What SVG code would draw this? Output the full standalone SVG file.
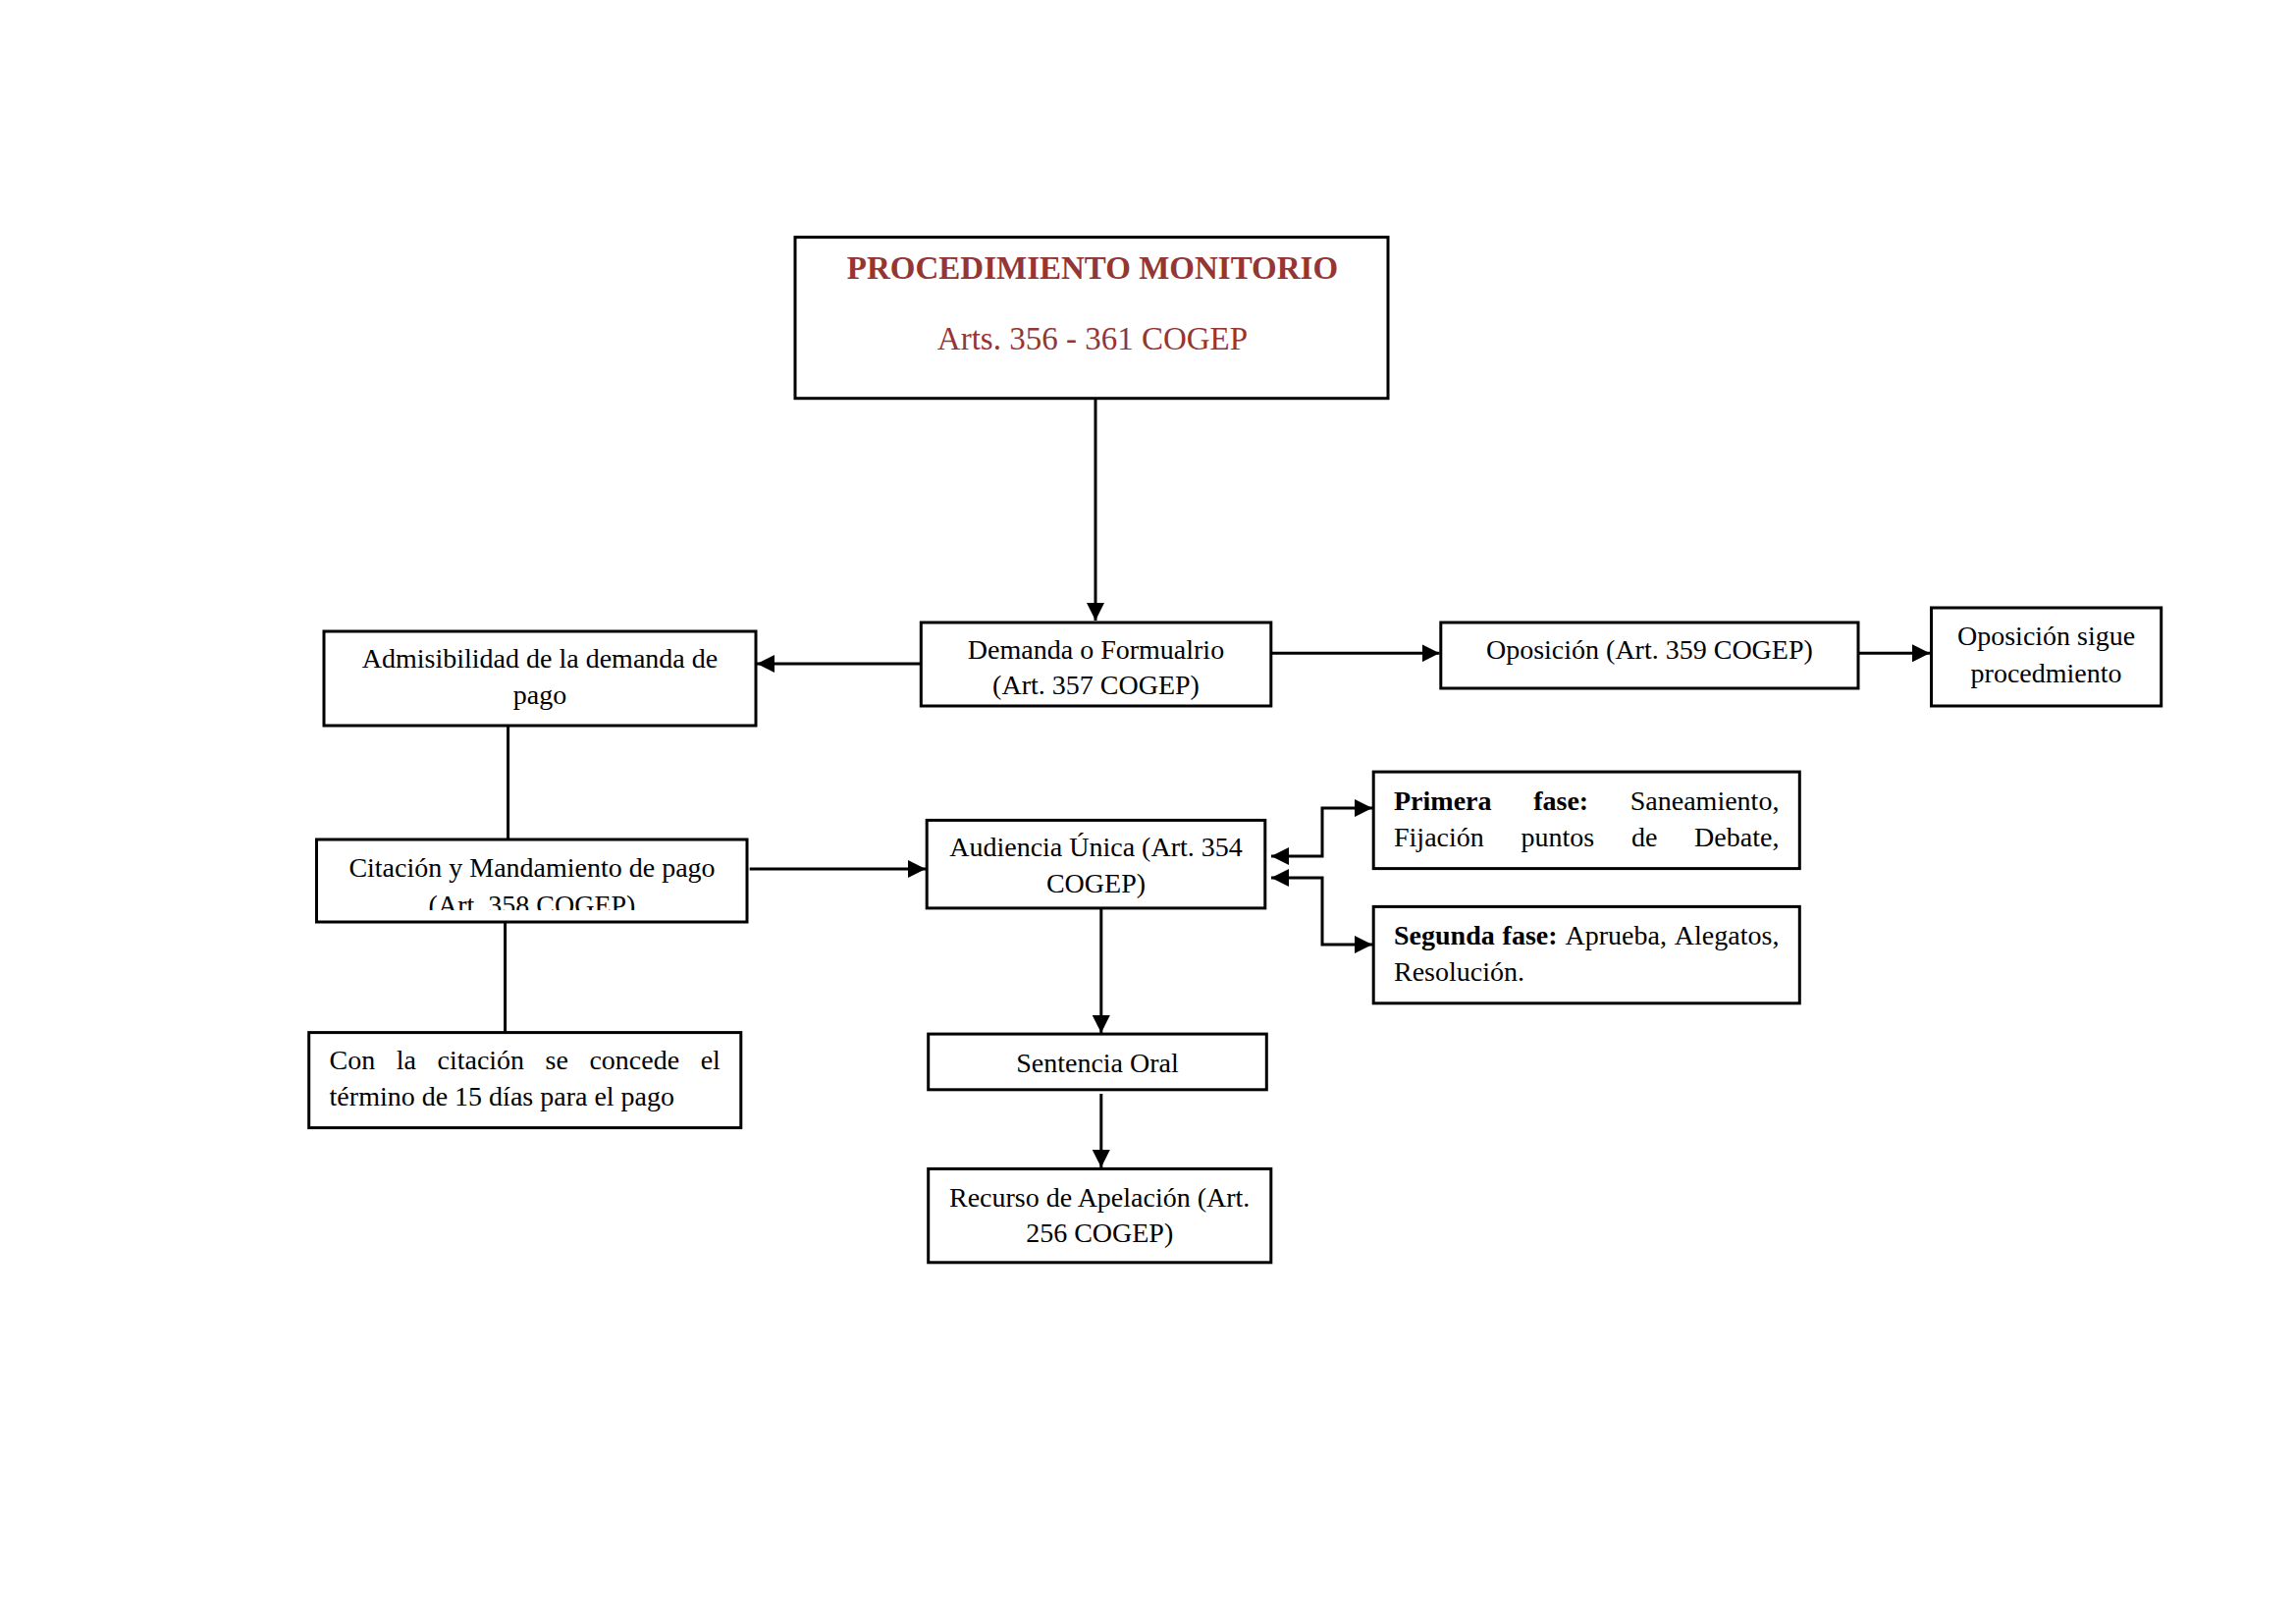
<svg xmlns="http://www.w3.org/2000/svg" width="2339" height="1654" viewBox="0 0 2339 1654">
<style>
.box{fill:#fff;stroke:#000;stroke-width:3}
.t{font-family:"Liberation Serif","Times New Roman",serif;font-size:28px;fill:#000}
.c{text-anchor:middle}
.e{text-anchor:end}
.b{font-weight:bold}
.ttl{font-family:"Liberation Serif","Times New Roman",serif;font-size:33px;fill:#943634;text-anchor:middle}
.conn{stroke:#000;stroke-width:3;fill:none}
</style>
<defs>
<marker id="ah" markerUnits="userSpaceOnUse" markerWidth="19" markerHeight="18" refX="18" refY="9" orient="auto-start-reverse">
<path d="M0,0 L18,9 L0,18 z" fill="#000"/>
</marker>
<clipPath id="clipCit"><rect x="324" y="856.5" width="436" height="70.5"/></clipPath>
</defs>
<rect x="0" y="0" width="2339" height="1654" fill="#fff"/>

<g id="connectors">
<path class="conn" d="M1116,405.7 V632" marker-end="url(#ah)"/>
<path class="conn" d="M938.3,676 H771" marker-end="url(#ah)"/>
<path class="conn" d="M1294.8,665.3 H1466.5" marker-end="url(#ah)"/>
<path class="conn" d="M1893,665.3 H1966" marker-end="url(#ah)"/>
<path class="conn" d="M517.6,739 V855"/>
<path class="conn" d="M514.6,932 V1051.6"/>
<path class="conn" d="M763.7,885 H943" marker-end="url(#ah)"/>
<path class="conn" d="M1121.8,922 V1052" marker-end="url(#ah)"/>
<path class="conn" d="M1121.8,1114 V1189" marker-end="url(#ah)"/>
<path class="conn" d="M1295,872 H1347 V823 H1398" marker-start="url(#ah)" marker-end="url(#ah)"/>
<path class="conn" d="M1295,894 H1347 V962 H1398" marker-start="url(#ah)" marker-end="url(#ah)"/>
</g>

<g id="title">
<rect class="box" x="810" y="241.6" width="604" height="164.1"/>
<text class="ttl" x="1113" y="284" font-weight="bold">PROCEDIMIENTO MONITORIO</text>
<text class="ttl" x="1113" y="356">Arts. 356 - 361 COGEP</text>
</g>

<g id="demanda">
<rect class="box" x="938.3" y="634" width="356.5" height="85"/>
<text class="t c" x="1116.5" y="670.8">Demanda o Formualrio</text>
<text class="t c" x="1116.5" y="706.6">(Art. 357 COGEP)</text>
</g>

<g id="admisibilidad">
<rect class="box" x="330" y="643" width="440" height="96"/>
<text class="t c" x="550" y="680">Admisibilidad de la demanda de</text>
<text class="t c" x="550" y="717">pago</text>
</g>

<g id="oposicion">
<rect class="box" x="1467.8" y="634" width="425.2" height="67"/>
<text class="t c" x="1680.4" y="670.8">Oposición (Art. 359 COGEP)</text>
</g>

<g id="oposicion-sigue">
<rect class="box" x="1967.5" y="619" width="234.2" height="100"/>
<text class="t c" x="2084.6" y="657.4">Oposición sigue</text>
<text class="t c" x="2084.6" y="694.7">procedmiento</text>
</g>

<g id="citacion">
<rect class="box" x="322.5" y="855" width="438.5" height="84"/>
<g clip-path="url(#clipCit)">
<text class="t c" x="542" y="893">Citación y Mandamiento de pago</text>
<text class="t c" x="542" y="930.5">(Art. 358 COGEP)</text>
</g>
</g>

<g id="con-la-citacion">
<rect class="box" x="314.7" y="1051.6" width="440.1" height="97"/>
<text class="t" y="1088.5"><tspan x="335.6">Con</tspan><tspan x="403.8">la</tspan><tspan x="445.5">citación</tspan><tspan x="555.6">se</tspan><tspan x="600.4">concede</tspan></text>
<text class="t e" x="733.9" y="1088.5">el</text>
<text class="t" x="335.6" y="1125.8">término de 15 días para el pago</text>
</g>

<g id="audiencia">
<rect class="box" x="944.2" y="835.4" width="344.6" height="89.5"/>
<text class="t c" x="1116.5" y="872">Audiencia Única (Art. 354</text>
<text class="t c" x="1116.5" y="909">COGEP)</text>
</g>

<g id="primera-fase">
<rect class="box" x="1399.2" y="786.1" width="434.1" height="98.5"/>
<text class="t" y="824.5"><tspan class="b" x="1420">Primera</tspan><tspan class="b" x="1562.2">fase:</tspan></text>
<text class="t e" x="1812.4" y="824.5">Saneamiento,</text>
<text class="t" y="861.8"><tspan x="1420">Fijación</tspan><tspan x="1549.5">puntos</tspan><tspan x="1661.9">de</tspan></text>
<text class="t e" x="1812.4" y="861.8">Debate,</text>
</g>

<g id="segunda-fase">
<rect class="box" x="1399.2" y="923.4" width="434.1" height="98.4"/>
<text class="t" y="961.7"><tspan class="b" x="1420">Segunda</tspan><tspan class="b" x="1530.6">fase:</tspan><tspan x="1594.5">Aprueba,</tspan></text>
<text class="t e" x="1812.4" y="961.7">Alegatos,</text>
<text class="t" x="1420" y="999">Resolución.</text>
</g>

<g id="sentencia">
<rect class="box" x="945.7" y="1053.1" width="344.6" height="56.7"/>
<text class="t c" x="1118" y="1091.5">Sentencia Oral</text>
</g>

<g id="recurso">
<rect class="box" x="945.7" y="1190.4" width="349.1" height="95.4"/>
<text class="t c" x="1120.2" y="1228.7">Recurso de Apelación (Art.</text>
<text class="t c" x="1120.2" y="1264.5">256 COGEP)</text>
</g>
</svg>
